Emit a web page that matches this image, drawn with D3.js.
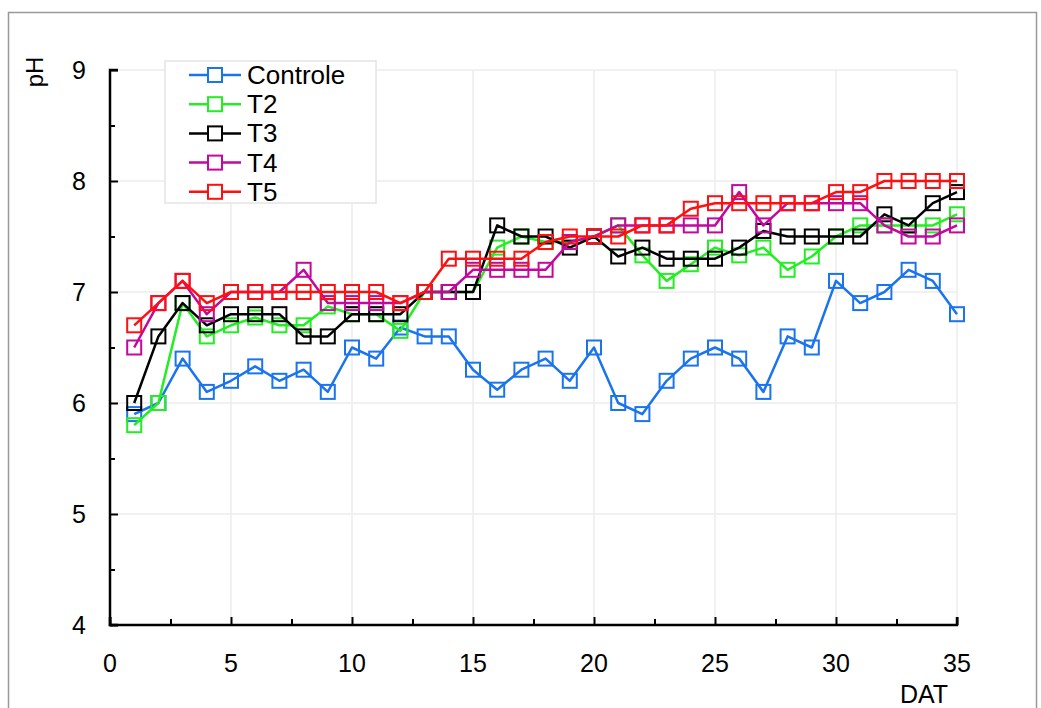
<!DOCTYPE html>
<html>
<head>
<meta charset="utf-8">
<script src="https://cdn.jsdelivr.net/npm/d3@7"></script>
<style>
  html, body { margin: 0; padding: 0; background: #fff; }
  svg { display: block; font-family: "Liberation Sans", Arial, sans-serif; }
</style>
</head>
<body>
<svg id="chart" width="1041" height="708"></svg>
<script>
// Days after transplanting
const dat = d3.range(1, 36);

// pH per treatment
const controle = [5.9, 6.0, 6.4, 6.1, 6.2, 6.33, 6.2, 6.3, 6.1, 6.5, 6.4, 6.68, 6.6, 6.6, 6.3, 6.12, 6.3, 6.4, 6.2, 6.5, 6.0, 5.9, 6.2, 6.4, 6.5, 6.4, 6.1, 6.6, 6.5, 7.1, 6.9, 7.0, 7.2, 7.1, 6.8];
const t2 = [5.8, 6.0, 6.9, 6.6, 6.7, 6.77, 6.7, 6.7, 6.87, 6.8, 6.8, 6.65, 7.0, 7.0, 7.0, 7.4, 7.5, 7.45, 7.45, 7.5, 7.6, 7.33, 7.1, 7.25, 7.4, 7.33, 7.4, 7.2, 7.32, 7.5, 7.6, 7.6, 7.6, 7.6, 7.7];
const t3 = [6.0, 6.6, 6.9, 6.7, 6.8, 6.8, 6.8, 6.6, 6.6, 6.8, 6.8, 6.8, 7.0, 7.0, 7.0, 7.6, 7.5, 7.5, 7.4, 7.5, 7.32, 7.4, 7.3, 7.3, 7.3, 7.4, 7.55, 7.5, 7.5, 7.5, 7.5, 7.7, 7.6, 7.8, 7.9];
const t4 = [6.5, 6.9, 7.1, 6.8, 7.0, 7.0, 7.0, 7.2, 6.9, 6.9, 6.9, 6.9, 7.0, 7.0, 7.2, 7.2, 7.2, 7.2, 7.45, 7.5, 7.6, 7.6, 7.6, 7.6, 7.6, 7.9, 7.6, 7.8, 7.8, 7.8, 7.8, 7.6, 7.5, 7.5, 7.6];
const t5 = [6.7, 6.9, 7.1, 6.9, 7.0, 7.0, 7.0, 7.0, 7.0, 7.0, 7.0, 6.9, 7.0, 7.3, 7.3, 7.3, 7.3, 7.45, 7.5, 7.5, 7.5, 7.6, 7.6, 7.75, 7.8, 7.8, 7.8, 7.8, 7.8, 7.9, 7.9, 8.0, 8.0, 8.0, 8.0];

const seriesNames = ["Controle", "T2", "T3", "T4", "T5"];
const seriesValues = [controle, t2, t3, t4, t5];
const seriesColors = ["#1a74ee", "#22ee22", "#000000", "#c4089e", "#ff1010"];

const xTicks = [0, 5, 10, 15, 20, 25, 30, 35];
const yTicks = [4, 5, 6, 7, 8, 9];

const svg = d3.select("#chart");
const plotLeft = 110, plotRight = 957, plotTop = 70, plotBottom = 625;

const x = d3.scaleLinear().domain([0, 35]).range([plotLeft, plotRight]);
const y = d3.scaleLinear().domain([4, 9]).range([plotBottom, plotTop]);

// Outer frame
svg.append("rect")
  .attr("x", 8.5).attr("y", 12.5).attr("width", 1028).attr("height", 720)
  .attr("fill", "none").attr("stroke", "#999").attr("stroke-width", 1.5);

// Grid
const grid = svg.append("g");
grid.selectAll("line.v").data(xTicks.filter(d => d > 0)).join("line")
  .attr("x1", d => x(d)).attr("x2", d => x(d))
  .attr("y1", plotTop).attr("y2", plotBottom)
  .attr("stroke", "#ececec").attr("stroke-width", 1.5);
grid.selectAll("line.h").data(yTicks.filter(d => d > 4)).join("line")
  .attr("x1", plotLeft).attr("x2", plotRight)
  .attr("y1", d => y(d)).attr("y2", d => y(d))
  .attr("stroke", "#ececec").attr("stroke-width", 1.5);

// Axes with inward ticks
const yAxis = svg.append("g").attr("transform", `translate(${plotLeft},0)`)
  .call(d3.axisRight(y).tickValues(yTicks).tickSize(8).tickFormat(""));
svg.append("g").attr("transform", `translate(${plotLeft},0)`)
  .call(d3.axisRight(y).tickValues(d3.range(4.5, 9, 1)).tickSize(5).tickFormat(""))
  .select(".domain").remove();
const xAxis = svg.append("g").attr("transform", `translate(0,${plotBottom})`)
  .call(d3.axisTop(x).tickValues(xTicks).tickSize(8).tickFormat(""));
svg.append("g").attr("transform", `translate(0,${plotBottom})`)
  .call(d3.axisTop(x).tickValues(d3.range(2.5, 35, 5)).tickSize(6).tickFormat(""))
  .select(".domain").remove();
svg.selectAll(".domain").attr("stroke", "#000").attr("stroke-width", 2.5);
svg.selectAll(".tick line").attr("stroke", "#000").attr("stroke-width", 2);
yAxis.select(".domain").attr("d", `M8,${plotTop}H0V${plotBottom}H8`);
xAxis.select(".domain").attr("d", `M${plotLeft},-8V0H${plotRight}V-8`);

// Tick labels
svg.append("g").selectAll("text").data(yTicks).join("text")
  .attr("x", 86).attr("y", d => y(d) + 9)
  .attr("text-anchor", "end").attr("font-size", 25).attr("fill", "#000")
  .text(d => d);
svg.append("g").selectAll("text").data(xTicks).join("text")
  .attr("x", d => x(d)).attr("y", 672)
  .attr("text-anchor", "middle").attr("font-size", 25).attr("fill", "#000")
  .text(d => d);

// Axis titles
svg.append("text").attr("x", 924).attr("y", 703)
  .attr("text-anchor", "middle").attr("font-size", 25).text("DAT");
svg.append("text").attr("transform", "translate(43,72) rotate(-90)")
  .attr("text-anchor", "middle").attr("font-size", 24).text("pH");

// Series lines and square markers
const line = d3.line().x((d, i) => x(dat[i])).y(d => y(d));
const marker = 14;
seriesValues.forEach((vals, k) => {
  const g = svg.append("g");
  g.append("path").datum(vals)
    .attr("d", line).attr("fill", "none")
    .attr("stroke", seriesColors[k]).attr("stroke-width", 2.5)
    .attr("stroke-linejoin", "round");
  g.selectAll("rect").data(vals).join("rect")
    .attr("x", (d, i) => x(dat[i]) - marker / 2)
    .attr("y", d => y(d) - marker / 2)
    .attr("width", marker).attr("height", marker)
    .attr("fill", "none").attr("stroke", seriesColors[k]).attr("stroke-width", 2);
});

// Legend
const legend = svg.append("g");
legend.append("rect").attr("x", 165).attr("y", 61).attr("width", 211).attr("height", 142)
  .attr("fill", "#fff").attr("stroke", "#e4e4e4").attr("stroke-width", 1.5);
seriesNames.forEach((name, k) => {
  const cy = 75 + k * 29.2;
  legend.append("line").attr("x1", 189).attr("x2", 241).attr("y1", cy).attr("y2", cy)
    .attr("stroke", seriesColors[k]).attr("stroke-width", 2.5);
  legend.append("rect").attr("x", 215 - marker / 2).attr("y", cy - marker / 2)
    .attr("width", marker).attr("height", marker)
    .attr("fill", "#fff").attr("stroke", seriesColors[k]).attr("stroke-width", 2);
  legend.append("text").attr("x", 247).attr("y", cy + 9)
    .attr("font-size", 26).attr("fill", "#000").text(name);
});
</script>
</body>
</html>
